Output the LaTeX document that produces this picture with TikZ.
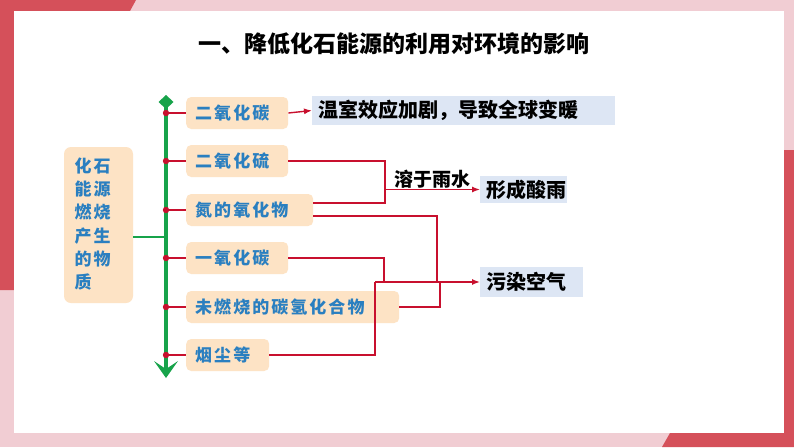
\documentclass[tikz,border=0pt]{standalone}
\usepackage{fontspec}
\setmainfont{Noto Sans CJK SC}
\newfontfamily\kaifont[LetterSpace=12]{Noto Sans CJK SC}
\usetikzlibrary{arrows.meta}
\definecolor{bgpink}{HTML}{F1CDD3}
\definecolor{darkred}{HTML}{D5505A}
\definecolor{peach}{HTML}{FDE3C5}
\definecolor{lightblue}{HTML}{DDE6F4}
\definecolor{bluetext}{HTML}{2A7FC0}
\definecolor{redc}{HTML}{C8102E}
\definecolor{spinegreen}{HTML}{17A34A}
\tikzset{
  srcbox/.style={fill=peach, draw=none, rounded corners=7pt, inner sep=0pt},
  srctext/.style={inner sep=0pt, text=bluetext, font=\kaifont\bfseries\fontsize{17}{23.3}\selectfont, align=left},
  itembox/.style={fill=peach, draw=none, rounded corners=5pt, minimum height=32pt, inner xsep=9pt, inner ysep=0pt,
    align=left, text=bluetext, font=\kaifont\bfseries\fontsize{17}{17}\selectfont, anchor=west},
  resbox/.style={fill=lightblue, draw=none, inner xsep=6pt, inner ysep=0pt, align=left,
    text=black, font=\bfseries\fontsize{20}{20}\selectfont, anchor=west},
  redline/.style={draw=redc, line width=1.4pt},
  redarrow/.style={redline, -{Latex[length=8pt,width=6pt]}},
  greenline/.style={draw=spinegreen, line width=1.5pt},
  reddot/.style={fill=redc}
}
\begin{document}
\begin{tikzpicture}[x=1pt,y=-1pt]
\useasboundingbox (0,0) rectangle (794,447);
% frame
\fill[bgpink] (0,0) rectangle (794,447);
\fill[darkred] (0,0) -- (136,0) -- (130,11) -- (14,11) -- (14,290) -- (0,290) -- cycle;
\fill[darkred] (794,447) -- (662,447) -- (670,433) -- (784,433) -- (784,150) -- (794,150) -- cycle;
\fill[white] (14,11) rectangle (784,433);
% title
\node[inner sep=0pt, font=\bfseries\fontsize{23}{23}\selectfont] (title) at (394,44) {一、降低化石能源的利用对环境的影响};
% source box
\node[srcbox, minimum width=69pt, minimum height=156pt] (src) at (98.5,225) {};
\node[srctext, anchor=west] (srct) at (74.5,224) {化石\\能源\\燃烧\\产生\\的物\\质};
% spine
\coordinate (spinetop) at (166,102);
\coordinate (spinebot) at (166,370);
\draw[draw=spinegreen, line width=4pt] (spinetop) -- (spinebot);
\fill[spinegreen] (166,95) -- (173.5,102) -- (166,109) -- (158.5,102) -- cycle;
\fill[spinegreen] (166,378) -- (178,361) -- (166,369) -- (154,361) -- cycle;
\coordinate (srcout) at (133,237);
\coordinate (spinein) at (165,237);
\draw[greenline] (srcout) -- (spinein);
% items
\node[itembox, minimum width=102pt, text width=84pt] (b1) at (186,113) {二氧化碳};
\node[itembox, minimum width=102pt, text width=84pt] (b2) at (186,161) {二氧化硫};
\node[itembox, minimum width=127pt, text width=109pt] (b3) at (186,210) {氮的氧化物};
\node[itembox, minimum width=102pt, text width=84pt] (b4) at (186,258) {一氧化碳};
\node[itembox, minimum width=213pt, text width=195pt] (b5) at (186,307) {未燃烧的碳氢化合物};
\node[itembox, minimum width=83pt, text width=65pt] (b6) at (186,355) {烟尘等};
\foreach \i/\y in {1/113,2/161,3/210,4/258,5/307,6/355}{
  \coordinate (d\i) at (166,\y);
  \draw[redline] (d\i) -- (b\i.west);
  \fill[reddot] (d\i) circle (3.2pt);
}
% results
\node[resbox, minimum width=303pt, minimum height=29pt, text width=291pt] (r1) at (312,110.5) {温室效应加剧，导致全球变暖};
\node[resbox, minimum width=87pt, minimum height=27pt, text width=75pt] (r2) at (480,189.5) {形成酸雨};
\node[resbox, minimum width=103pt, minimum height=30pt, text width=91pt] (r3) at (480,282) {污染空气};
% greenhouse
\draw[redarrow] (b1.east) -- (r1.west);
% acid rain
\draw[redline] (b2.east) -- (385,161) -- (385,203) -- ([yshift=7pt]b3.east);
\coordinate (acid) at (385,189.5);
\draw[redarrow] (acid) -- (r2.west);
\node[inner sep=0pt, font=\bfseries\fontsize{19}{19}\selectfont] (dissolve) at (432,179) {溶于雨水};
% air pollution
\draw[redline] ([yshift=-6pt]b3.east) -- (437,216) -- (437,282);
\draw[redline] (b4.east) -- (384,258) -- (384,282);
\draw[redline] (b5.east) -- (440,307) -- (440,282);
\draw[redline] (b6.east) -- (375,355) -- (375,282);
\coordinate (air) at (375,282);
\draw[redarrow] (air) -- (r3.west);
\end{tikzpicture}
\end{document}
